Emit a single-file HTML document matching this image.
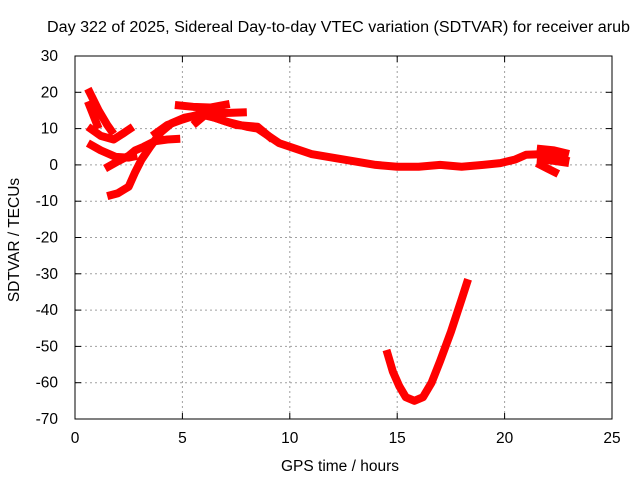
<!DOCTYPE html>
<html><head><meta charset="utf-8"><style>
body{margin:0;background:#fff;}
svg text{font-family:"Liberation Sans",sans-serif;font-size:15.5px;fill:#000;}
</style></head><body>
<svg id="chart" width="640" height="480">
<rect width="640" height="480" fill="#fff"/>
<g id="grid"></g><g id="series"></g><g id="axes"></g>
<text x="47" y="32" textLength="583" lengthAdjust="spacingAndGlyphs">Day 322 of 2025, Sidereal Day-to-day VTEC variation (SDTVAR) for receiver arub</text>
<text x="340" y="471" text-anchor="middle">GPS time / hours</text>
<text transform="translate(19,240) rotate(-90)" text-anchor="middle">SDTVAR / TECUs</text>
</svg>
<script>
const xTicks=[0,5,10,15,20,25];
const yTicks=[30,20,10,0,-10,-20,-30,-40,-50,-60,-70];
const seriesA=[[0.6,21],[1.1,15],[1.5,11],[1.8,8.5]];
const seriesB=[[0.6,17.5],[0.9,13],[1.1,10]];
const seriesC=[[0.6,10.5],[1.2,8],[1.8,7],[2.2,8.5],[2.7,10.5]];
const seriesD=[[0.6,6],[1.2,4],[1.9,2.2],[2.5,2],[2.9,2.5]];
const seriesE=[[1.5,-8.6],[2.0,-7.8],[2.5,-6],[2.8,-2],[3.1,1.5],[3.5,5],[4.0,9],[4.5,11.5],[5.1,13],[6,14],[7,12],[8,10.5],[8.5,10],[9,8],[9.5,6],[10,5],[11,3],[12,2],[13,1],[14,0],[15,-0.5],[16,-0.5],[17,0],[18,-0.5],[19,0],[19.8,0.5],[20.5,1.5],[21,2.8],[22,3],[23,1]];
const seriesF=[[1.4,-1],[2.0,1],[2.5,2.5],[2.8,4],[3.2,5],[3.7,6.5],[4.3,7],[4.9,7.2]];
const seriesG=[[3.6,8],[4.3,11],[5,12.5],[5.8,14],[6.5,13],[7.5,11],[8.5,10.5],[9.2,7]];
const seriesH=[[4.65,16.5],[5.5,16],[6.3,15.8],[7.2,16.8]];
const seriesI=[[5.5,11],[6.2,14.5],[7,14.3],[8,14.5]];
const seriesJ=[[21.5,4.5],[22.3,4],[23,3]];
const seriesK=[[21.5,1.5],[22.2,1.2],[23,0.5]];
const seriesL=[[21.5,0.5],[22,-1],[22.5,-2.5]];
const seriesV=[[14.5,-51],[14.8,-57],[15.1,-61],[15.4,-64],[15.8,-65],[16.2,-64],[16.6,-60],[17,-54],[17.5,-46],[18,-37],[18.3,-31.5]];
const allSeries=[seriesA,seriesB,seriesC,seriesD,seriesE,seriesF,seriesG,seriesH,seriesI,seriesJ,seriesK,seriesL,seriesV];
const X0=75,X1=612,Y0=56,Y1=419;
const xs=v=>X0+(v-0)/25*(X1-X0);
const ys=v=>Y0+(30-v)/100*(Y1-Y0);
const NS="http://www.w3.org/2000/svg";
const grid=document.getElementById('grid'),axes=document.getElementById('axes'),ser=document.getElementById('series');
function mk(tag,attrs,parent){const e=document.createElementNS(NS,tag);for(const k in attrs)e.setAttribute(k,attrs[k]);parent.appendChild(e);return e;}
xTicks.forEach(t=>{
  const x=xs(t);
  if(t>0&&t<25){const g=mk('line',{x1:x,x2:x,y1:Y0,y2:Y1,stroke:'#a0a0a0','stroke-dasharray':'2,3'},grid);
  
  }
  mk('line',{x1:x,x2:x,y1:Y1,y2:Y1-6,stroke:'#000'},axes);
  mk('line',{x1:x,x2:x,y1:Y0,y2:Y0+6,stroke:'#000'},axes);
  const l=mk('text',{x:x,y:Y1+24,'text-anchor':'middle'},axes);l.textContent=t;
  
  
});
yTicks.forEach(t=>{
  const y=ys(t);
  if(t<30&&t>-70){const g=mk('line',{x1:X0,x2:X1,y1:y,y2:y,stroke:'#a0a0a0','stroke-dasharray':'2,3'},grid);
  
  }
  mk('line',{x1:X0,x2:X0+6,y1:y,y2:y,stroke:'#000'},axes);
  mk('line',{x1:X1,x2:X1-6,y1:y,y2:y,stroke:'#000'},axes);
  const l=mk('text',{x:X0-17,y:y+5,'text-anchor':'end'},axes);l.textContent=t;
  
  
});
const fr=mk('rect',{x:X0,y:Y0,width:X1-X0,height:Y1-Y0,fill:'none',stroke:'#000'},axes);


allSeries.forEach((s,i)=>{
  const p=mk('polyline',{points:s.map(d=>xs(d[0])+','+ys(d[1])).join(' '),fill:'none',stroke:'#ff0000','stroke-width':8,'stroke-linejoin':'round'},ser);
  
  
});
</script>
</body></html>
